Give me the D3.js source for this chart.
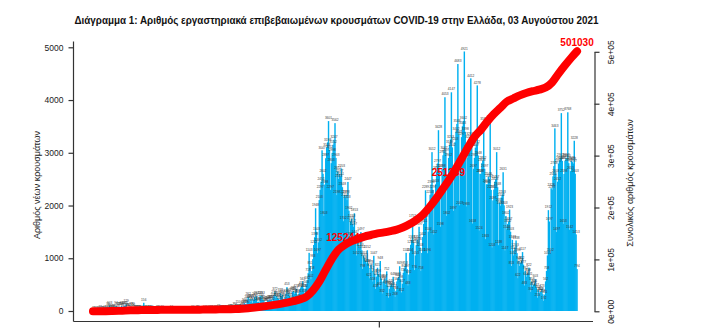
<!DOCTYPE html>
<html><head><meta charset="utf-8">
<script src="https://cdn.jsdelivr.net/npm/d3@7/dist/d3.min.js"></script>
<style>body{margin:0;background:#fff}svg{display:block}</style>
</head><body>
<svg id="chart" width="708" height="331"></svg>
<script>
// ---------- DATA ----------
const titleText = "Διάγραμμα 1: Αριθμός εργαστηριακά επιβεβαιωμένων κρουσμάτων COVID-19 στην Ελλάδα, 03 Αυγούστου 2021";
const leftAxisTitle = "Αριθμός νέων κρουσμάτων";
const rightAxisTitle = "Συνολικός αριθμός κρουσμάτων";
const firstDate = "2020-02-26";
const xTickDates = ["2021-01-01"];
const leftTicks = [0, 1000, 2000, 3000, 4000, 5000];
const rightTicks = [0, 100000, 200000, 300000, 400000, 500000];
const rightTickLabels = ["0e+00", "1e+05", "2e+05", "3e+05", "4e+05", "5e+05"];

// daily new cases, one row per week (Wed..Tue), from 26 Feb 2020
const daily2020a = [
  1,2,1,0,0,3,0,
  2,22,13,13,11,6,16,
  9,18,73,38,103,21,35,
  31,46,31,35,94,71,48,
  78,71,74,95,64,87,102,
  101,129,69,60,62,20,77,
  52,72,56,29,19,22,25,
  22,15,15,17,12,10,156,
  25,4,28,14,10,22,19,
  7,15,6,8,10,5,9,
  16,19,10,10,11,19,3,
  10,12,10,9,9,5,10,
  3,16,8,2,2,2,3,
  3,3,1,9,4,2,1,
  6,2,1,3,6,2,6,
  2,2,7,22,1,5,0,
  10,21,19,8,2,9,5,
  12,11,15,10,7,15,8,
  13,22,14,6,22,12,9,
  25,21,12,42,30,19,27,
  24,30,27,29,31,14,28,
  28,50,33,38,25,18,75
];
const daily2020b = [
  57,43,33,110,33,45,37,
  69,98,124,151,133,126,203,
  262,205,230,176,227,151,217,
  269,235,284,168,178,155,293,
  250,293,211,202,149,169,162,
  201,196,220,209,218,182,256,
  299,372,251,283,241,236,200,
  338,282,312,230,177,259,324,
  453,307,345,281,241,196,362,
  381,328,362,421,302,238,331,
  412,448,471,563,428,318,422,
  503,582,718,1103,851,602,758,
  983,1252,1398,1948,1503,1097,1302,
  2103,2297,2451,3047,2602,1803,2398,
  2897,3103,3198,3601,3052,2297,2803,
  2998,3152,3247,3562,2903,2198,2652,
  2503,2597,2551,2703,2348,1702,2197,
  2152,2198,2103,2447,1902,1398,1703,
  1748,1652,1597,1853,1447,1052,1348,
  1302,1248,1203,1497,1152,798,1053,
  1003,948,902,1152,898,621,818,
  878,762,558,1047,703,418,652,
  821,698,462,948,617,332,558
];
const daily2021a = [
  583,617,498,752,476,253,421,
  482,519,468,648,417,268,384,
  561,622,641,849,598,352,517,
  724,806,853,1103,797,483,692,
  1104,1256,1348,1752,1297,776,1053,
  1248,1352,1306,1597,1203,758,1101,
  1402,1651,1748,2289,1803,1096,1504,
  1897,2203,2398,3012,2297,1452,2051,
  2403,2652,2797,3428,2703,1598,2203,
  2698,2953,3047,4053,2997,1802,2503,
  2902,3148,3253,4147,3102,1897,2598,
  3203,3402,3548,4683,3347,2003,2802,
  3297,3503,3602,4921,3398,1983,2903,
  3048,3252,3297,4412,3103,1658,2697,
  2903,3097,3152,4278,2948,1524,2603,
  2597,2803,2852,3581,2697,1363,2403,
  2402,2548,2503,3618,2297,1203,2097
];
const daily2021b = [
  2302,2453,2497,3012,2348,1248,2053,
  1997,2152,2203,2631,2003,1147,1802,
  1548,1652,1697,1923,1503,853,1348,
  1052,1147,1203,1338,1098,622,948,
  853,918,952,1117,877,483,762,
  648,703,718,822,641,362,558,
  463,498,521,603,447,253,402,
  331,362,368,423,318,192,311,
  562,758,1053,1912,1697,1102,2328,
  2297,2553,2748,3463,2603,1497,2452,
  2797,2853,2903,3752,2847,1653,2598,
  2852,2897,2883,3768,2803,1542,2653,
  2848,2823,2797,3228,2603,1453,794
];

// cumulative cases read at the start of each week (every 7th day), plus the last day
const cumulativeWeekly = [
  1,9,99,418,821,1415,1884,2192,2401,2591,
  2716,2819,2873,2909,2937,3058,3134,3256,3409,3589,
  3826,4048,4279,4855,5942,7420,8870,10500,12300,14300,
  16600,19500,23000,28000,40000,57000,80000,102000,119000,128500,
  135000,140000,144000,147000,150000,152000,154500,157500,162000,168000,
  176000,186000,200000,216000,234000,252000,272000,294000,316000,336000,
  350000,366000,380000,392000,404000,410000,416000,420500,424000,427000,
  431000,441000,458000,474000,489000
];
const cumulativeLast = 501030;
const cumLabels = [125244, 251239, 501030];

// ---------- CHART ----------
const dailyCases = [].concat(daily2020a, daily2020b, daily2021a, daily2021b);
const n = dailyCases.length;
const parse = d3.timeParse("%Y-%m-%d");
const d0 = parse(firstDate);

const svg = d3.select("#chart");
svg.append("rect").attr("width",708).attr("height",331).attr("fill","#fff");

const FONT = "'Liberation Sans', Arial, sans-serif";

const xBand = d3.scaleBand().domain(d3.range(n)).range([92.5, 577.5]).padding(0);
const bw = xBand.bandwidth();
const xDay = d3.scaleLinear().domain([0, n-1]).range([xBand(0)+bw/2, xBand(n-1)+bw/2]);
const yLeft = d3.scaleLinear().domain([0, 5000]).range([311, 47.3]);
const yRight = d3.scaleLinear().domain([0, 500000]).range([311.3, 51.8]);

// bars
svg.append("g").selectAll("rect").data(dailyCases).join("rect")
  .attr("x", (d,i) => xBand(i) - 0.25)
  .attr("width", bw + 0.5)
  .attr("y", d => yLeft(d))
  .attr("height", d => yLeft(0) - yLeft(d))
  .attr("fill", "#00B0F0");

// value labels on bars
svg.append("g").selectAll("text").data(dailyCases).join("text")
  .attr("x", (d,i) => xBand(i) + bw/2)
  .attr("y", d => yLeft(d) - 1.8)
  .attr("text-anchor", "middle")
  .attr("font-family", FONT)
  .attr("font-size", 3.2)
  .attr("fill", "#3a3a3a")
  .text(d => d);

// frame lines (left + bottom)
svg.append("line").attr("x1",73.5).attr("x2",73.5).attr("y1",41.5).attr("y2",321.5)
  .attr("stroke","#333").attr("stroke-width",1.2);
svg.append("line").attr("x1",73.5).attr("x2",593).attr("y1",321.5).attr("y2",321.5)
  .attr("stroke","#333").attr("stroke-width",1.2);

// left axis
const gL = svg.append("g").attr("transform","translate(73.5,0)")
  .call(d3.axisLeft(yLeft).tickValues(leftTicks).tickFormat(d3.format("d")).tickSize(5).tickPadding(5));
gL.select(".domain").remove();
gL.selectAll("line").attr("stroke","#333").attr("stroke-width",1.2);
gL.selectAll("text").attr("font-family",FONT).attr("font-size",8.5).attr("fill","#222");

// right axis
const gR = svg.append("g").attr("transform","translate(594.5,0)")
  .call(d3.axisRight(yRight).tickValues(rightTicks).tickFormat((d,i) => rightTickLabels[i]).tickSize(5).tickSizeOuter(0));
gR.select(".domain").attr("stroke","#333").attr("stroke-width",1.2);
gR.selectAll("line").attr("stroke","#333").attr("stroke-width",1.2);
gR.selectAll("text")
  .attr("x", null).attr("dy", null)
  .attr("transform","translate(16,0) rotate(-90)")
  .attr("text-anchor","middle")
  .attr("dominant-baseline","central")
  .attr("font-family",FONT).attr("font-size",8.5).attr("fill","#222");

// bottom tick(s)
xTickDates.forEach(s => {
  const idx = d3.timeDay.count(d0, parse(s));
  svg.append("line").attr("x1",xDay(idx)).attr("x2",xDay(idx))
    .attr("y1",321.5).attr("y2",327.5).attr("stroke","#333").attr("stroke-width",1.2);
});

// cumulative line
const cumPoints = cumulativeWeekly.map((v,i) => ({day: i*7, v}))
  .concat([{day: n-1, v: cumulativeLast}]);
const line = d3.line().x(p => xDay(p.day)).y(p => yRight(p.v)).curve(d3.curveMonotoneX);
svg.append("path").datum(cumPoints).attr("d", line)
  .attr("fill","none").attr("stroke","#FF0000").attr("stroke-width",8)
  .attr("stroke-linecap","round").attr("stroke-linejoin","round");

// cumulative labels
function dayAt(v){
  for (let i = 0; i < cumPoints.length-1; i++){
    const a = cumPoints[i], b = cumPoints[i+1];
    if (v >= a.v && v <= b.v) return a.day + (v-a.v)/(b.v-a.v)*(b.day-a.day);
  }
  return cumPoints[cumPoints.length-1].day;
}
svg.append("g").selectAll("text").data(cumLabels).join("text")
  .attr("x", v => xDay(dayAt(v)))
  .attr("y", v => yRight(v) - 5)
  .attr("text-anchor","middle")
  .attr("font-family",FONT).attr("font-weight","bold").attr("font-size",10)
  .attr("fill","#FF0000")
  .text(v => v);

// title
svg.append("text").attr("x",336.5).attr("y",24)
  .attr("text-anchor","middle").attr("font-family",FONT).attr("font-weight","bold")
  .attr("font-size",11).attr("fill","#111")
  .attr("textLength",524).attr("lengthAdjust","spacingAndGlyphs")
  .text(titleText);

// axis titles
svg.append("text").attr("transform","translate(37,185) rotate(-90)")
  .attr("text-anchor","middle").attr("dominant-baseline","central")
  .attr("font-family",FONT).attr("font-size",9).attr("fill","#222")
  .text(leftAxisTitle);
svg.append("text").attr("transform","translate(630,183) rotate(-90)")
  .attr("text-anchor","middle").attr("dominant-baseline","central")
  .attr("font-family",FONT).attr("font-size",9).attr("fill","#222")
  .text(rightAxisTitle);
</script>
</body></html>
